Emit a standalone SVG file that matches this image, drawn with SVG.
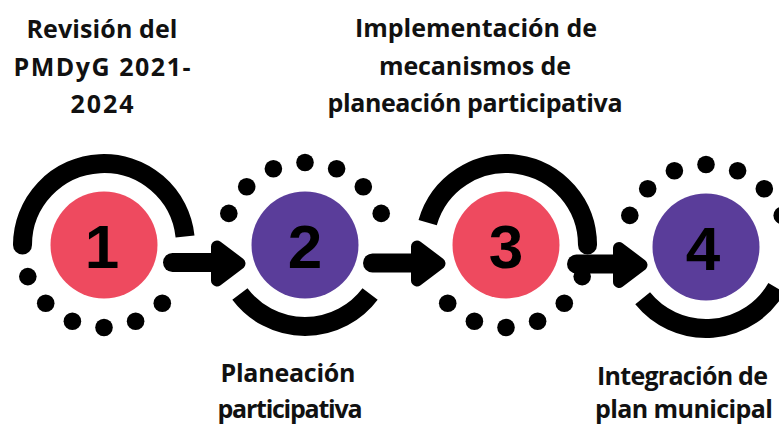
<svg xmlns="http://www.w3.org/2000/svg" width="779" height="424" viewBox="0 0 779 424">
<style>
.lbl{font-family:"Open Sans","Liberation Sans",sans-serif;font-weight:700;font-size:25px;fill:#111;text-anchor:middle}
.num{font-family:"Liberation Sans",Arial,sans-serif;font-weight:700;font-size:62px;fill:#000;text-anchor:middle}
.arc{fill:none;stroke:#000;stroke-width:19;stroke-linecap:butt}
.dot{fill:#000}
.red{fill:#EE4A5F}
.pur{fill:#5A3D9A}
.bar{stroke:#000;stroke-width:19;stroke-linecap:round;fill:none}
.head{fill:#000;stroke:#000;stroke-width:12;stroke-linejoin:round}
</style>
<rect width="779" height="424" fill="#fff"/>
<g id="node1">
<path class="arc" d="M22.5,245 A81.5,81.5 0 0 1 185.05,236.48"/>
<circle class="dot" cx="22.5" cy="245" r="9.5"/>
<circle class="dot" cx="162.3" cy="303.3" r="8.8"/>
<circle class="dot" cx="135.6" cy="321.2" r="8.8"/>
<circle class="dot" cx="104" cy="327.5" r="8.8"/>
<circle class="dot" cx="72.4" cy="321.2" r="8.8"/>
<circle class="dot" cx="45.7" cy="303.3" r="8.8"/>
<circle class="dot" cx="27.8" cy="276.6" r="8.8"/>
<circle class="red" cx="104" cy="245" r="53.5"/>
<text class="num" x="102" y="268">1</text>
<text class="lbl" x="102" y="38" textLength="151">Revisión del</text>
<text class="lbl" x="102" y="76" textLength="177">PMDyG 2021-</text>
<text class="lbl" x="102" y="113" textLength="63">2024</text>
</g>
<g id="node2">
<path class="arc" d="M370.09,294.05 A81.5,81.5 0 0 1 239.91,294.05"/>
<circle class="dot" cx="381.2" cy="213.4" r="8.8"/>
<circle class="dot" cx="363.3" cy="186.7" r="8.8"/>
<circle class="dot" cx="336.6" cy="168.8" r="8.8"/>
<circle class="dot" cx="305" cy="162.5" r="8.8"/>
<circle class="dot" cx="273.4" cy="168.8" r="8.8"/>
<circle class="dot" cx="246.7" cy="186.7" r="8.8"/>
<circle class="dot" cx="228.8" cy="213.4" r="8.8"/>
<circle class="pur" cx="305" cy="245" r="53.5"/>
<text class="num" x="305" y="268">2</text>
<text class="lbl" x="288" y="382" textLength="135">Planeación</text>
<text class="lbl" x="290" y="418" textLength="145">participativa</text>
</g>
<g id="node3">
<path class="arc" d="M427.66,222.54 A81.5,81.5 0 0 1 587.5,245"/>
<circle class="dot" cx="587.5" cy="245" r="9.5"/>
<circle class="dot" cx="582.2" cy="276.6" r="8.8"/>
<circle class="dot" cx="564.3" cy="303.3" r="8.8"/>
<circle class="dot" cx="537.6" cy="321.2" r="8.8"/>
<circle class="dot" cx="506" cy="327.5" r="8.8"/>
<circle class="dot" cx="474.4" cy="321.2" r="8.8"/>
<circle class="dot" cx="447.7" cy="303.3" r="8.8"/>
<circle class="red" cx="506" cy="245" r="53.5"/>
<text class="num" x="506" y="268">3</text>
<text class="lbl" x="476" y="37" textLength="242">Implementación de</text>
<text class="lbl" x="475" y="75" textLength="192">mecanismos de</text>
<text class="lbl" x="475" y="112" textLength="295">planeación participativa</text>
</g>
<g id="node4">
<path class="arc" d="M776.58,287.75 A81.5,81.5 0 0 1 642.66,298.29"/>
<circle class="dot" cx="782.2" cy="215.4" r="8.8"/>
<circle class="dot" cx="764.3" cy="188.7" r="8.8"/>
<circle class="dot" cx="737.6" cy="170.8" r="8.8"/>
<circle class="dot" cx="706" cy="164.5" r="8.8"/>
<circle class="dot" cx="674.4" cy="170.8" r="8.8"/>
<circle class="dot" cx="647.7" cy="188.7" r="8.8"/>
<circle class="dot" cx="629.8" cy="215.4" r="8.8"/>
<circle class="pur" cx="706" cy="247" r="53.5"/>
<text class="num" x="703" y="270">4</text>
<text class="lbl" x="682.5" y="385" textLength="171">Integración de</text>
<text class="lbl" x="684" y="418" textLength="178">plan municipal</text>
</g>
<g id="connectors">
<line class="bar" x1="172.5" y1="262.5" x2="225" y2="262.5"/>
<polygon class="head" points="217,246.5 239.5,263.5 217,280.5"/>
<line class="bar" x1="372.5" y1="263" x2="425" y2="263"/>
<polygon class="head" points="417,246.5 439.5,263.5 417,280.5"/>
<line class="bar" x1="576.5" y1="264" x2="627" y2="264"/>
<polygon class="head" points="619,248 641.5,265 619,282"/>
</g>
</svg>
